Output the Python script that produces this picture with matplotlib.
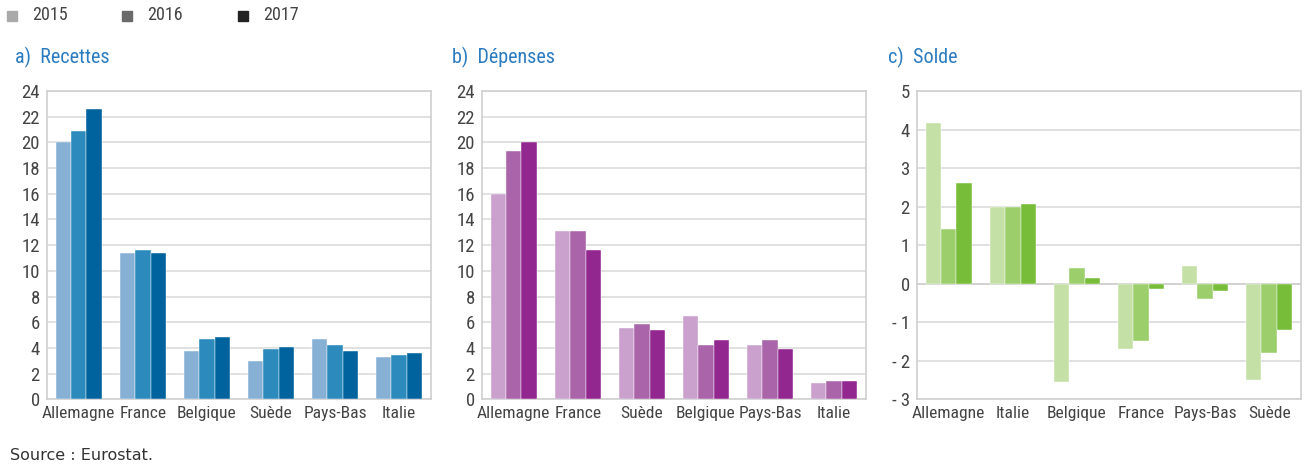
import matplotlib
matplotlib.use("Agg")
import matplotlib.pyplot as plt
from matplotlib import font_manager as fm
import numpy as np

years = ["2015", "2016", "2017"]

cats_a = ["Allemagne", "France", "Belgique", "Suède", "Pays-Bas", "Italie"]
rec_2015 = [20.0, 11.35, 3.75, 3.0, 4.7, 3.3]
rec_2016 = [20.9, 11.6, 4.7, 3.9, 4.2, 3.45]
rec_2017 = [22.6, 11.35, 4.85, 4.05, 3.75, 3.6]

cats_b = ["Allemagne", "France", "Suède", "Belgique", "Pays-Bas", "Italie"]
dep_2015 = [16.0, 13.1, 5.55, 6.5, 4.25, 1.28]
dep_2016 = [19.3, 13.1, 5.85, 4.25, 4.6, 1.45]
dep_2017 = [20.05, 11.6, 5.4, 4.6, 3.95, 1.45]

cats_c = ["Allemagne", "Italie", "Belgique", "France", "Pays-Bas", "Suède"]
sol_2015 = [4.17, 2.0, -2.55, -1.7, 0.47, -2.5]
sol_2016 = [1.42, 2.0, 0.41, -1.5, -0.39, -1.8]
sol_2017 = [2.62, 2.07, 0.16, -0.13, -0.18, -1.2]

titles = ["a)  Recettes", "b)  Dépenses", "c)  Solde"]
yticks_ab = list(range(0, 25, 2))
yticks_c = list(range(-3, 6))
ytick_labels_c = ["- 3", "- 2", "- 1", "0", "1", "2", "3", "4", "5"]

blues = ["#86b1d5", "#2c8abc", "#00639d"]
purples = ["#c9a1cc", "#a964aa", "#92278f"]
greens = ["#c4e0a6", "#9ccf6c", "#77bd3a"]
legend_grays = ["#a9a9a9", "#6a6a6a", "#222222"]

# choose a condensed font if one is installed
names = {f.name for f in fm.fontManager.ttflist}
cond_files = [f for f in fm.fontManager.ttflist
              if "condensed" in str(f.stretch).lower() or "narrow" in f.name.lower()
              or "condensed" in f.name.lower() or "Condensed" in f.fname]
NARROW_KW = {"family": "DejaVu Sans"}
if "Liberation Sans Narrow" in names:
    NARROW_KW = {"family": "Liberation Sans Narrow"}
elif "Roboto Condensed" in names:
    NARROW_KW = {"family": "Roboto Condensed"}
else:
    dj = [f for f in fm.fontManager.ttflist if f.name == "DejaVu Sans" and "Condensed" in f.fname]
    if dj:
        NARROW_KW = {"family": "DejaVu Sans", "stretch": "condensed"}
    elif cond_files:
        NARROW_KW = {"family": cond_files[0].name, "stretch": cond_files[0].stretch}
CONDENSED = NARROW_KW["family"] != "DejaVu Sans" or "stretch" in NARROW_KW
scale = 1.0 if CONDENSED else 0.85

W, H = 1309, 468
fig = plt.figure(figsize=(W / 100, H / 100), dpi=100)

def px_axes(left, top, right, bottom):
    return fig.add_axes([left / W, 1 - bottom / H, (right - left) / W, (bottom - top) / H])

panels = [
    (46.7, cats_a, [rec_2015, rec_2016, rec_2017], blues, (0, 24), yticks_ab, [str(t) for t in yticks_ab], 15),
    (481.7, cats_b, [dep_2015, dep_2016, dep_2017], purples, (0, 24), yticks_ab, [str(t) for t in yticks_ab], 452),
    (916.7, cats_c, [sol_2015, sol_2016, sol_2017], greens, (-3, 5), yticks_c, ytick_labels_c, 888),
]

YTICK = 13.5
XTICK = 12.6
bw = 0.24
for k, (left, cats, series, cols, ylim, yt, ytl, tx) in enumerate(panels):
    ax = px_axes(left, 91, left + 384.5, 399.3)
    x = np.arange(len(cats))
    for i, (vals, c) in enumerate(zip(series, cols)):
        ax.bar(x + (i - 1) * bw, vals, width=bw, color=c, edgecolor="white",
               linewidth=0.3, zorder=3)
    ax.set_xlim(-0.5, len(cats) - 0.5)
    ax.set_ylim(*ylim)
    ax.set_yticks(yt)
    ax.set_yticklabels(ytl)
    ax.set_xticks(x)
    ax.set_xticklabels(cats)
    ax.grid(axis="y", color="#dcdcdc", linewidth=1.2, zorder=0)
    ax.tick_params(length=0, labelcolor="#444444", pad=5)
    for lab in ax.get_xticklabels():
        lab.set_fontproperties(fm.FontProperties(size=XTICK * scale, **NARROW_KW))
    for lab in ax.get_yticklabels():
        lab.set_fontproperties(fm.FontProperties(size=YTICK * scale, **NARROW_KW))
    for s in ax.spines.values():
        s.set_color("#cfcfcf")
        s.set_linewidth(1.2)
    if ylim[0] < 0:
        ax.axhline(0, color="#cfcfcf", linewidth=1.2, zorder=2)
    fig.text(tx / W, 1 - 57 / H, titles[k],
             fontproperties=fm.FontProperties(size=14.5 * scale, **NARROW_KW),
             color="#2b7bc0", va="center", ha="left")

# legend
leg_x = [7, 122, 238]
for xs, yr, g in zip(leg_x, years, legend_grays):
    fig.patches.append(plt.Rectangle((xs / W, 1 - 21 / H), 10 / W, 10 / H,
                                     transform=fig.transFigure, color=g, figure=fig))
    fig.text((xs + 25) / W, 1 - 15 / H, yr,
             fontproperties=fm.FontProperties(size=13 * scale, **NARROW_KW),
             color="#444444", va="center", ha="left")

fig.text(10 / W, 1 - 455 / H, "Source : Eurostat.", family=["DejaVu Sans"], fontsize=11.5,
         color="#333333", va="center", ha="left")

fig.savefig("out.png", dpi=100)
